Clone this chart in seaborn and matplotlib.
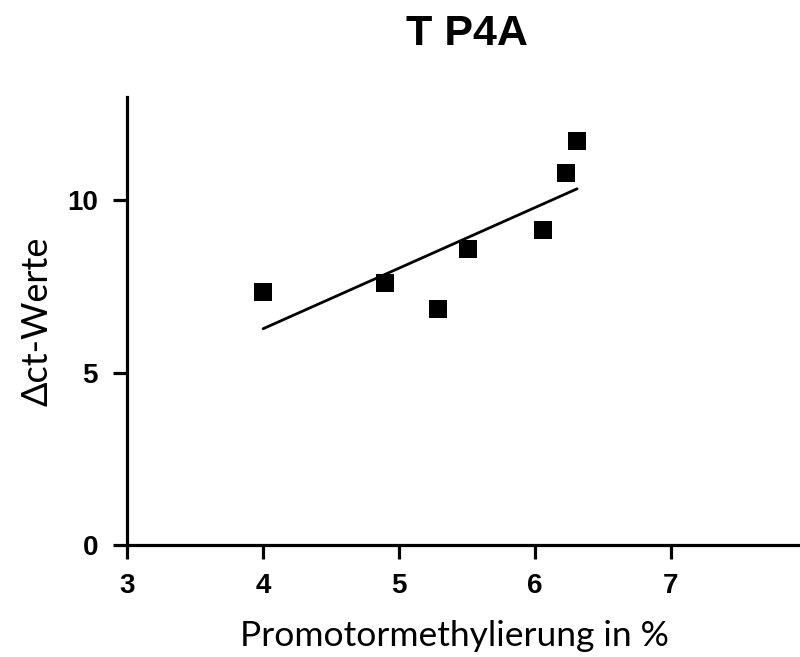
import matplotlib
matplotlib.use("Agg")
import matplotlib.pyplot as plt
import seaborn as sns
import pandas as pd

# Promoter methylation (%) vs. delta-ct values
methylation = [4.00, 4.90, 5.29, 5.51, 6.06, 6.23, 6.31]
delta_ct = [7.35, 7.61, 6.85, 8.60, 9.13, 10.78, 11.71]
x_ticks = [3, 4, 5, 6, 7]
y_ticks = [0, 5, 10]

df = pd.DataFrame({"meth": methylation, "dct": delta_ct})

sns.set_theme(style="ticks")
plt.rcParams["font.family"] = ["Liberation Sans", "DejaVu Sans"]
plt.rcParams["text.color"] = "black"
plt.rcParams["axes.labelcolor"] = "black"

fig = plt.figure(figsize=(8, 6.57), dpi=100)
ax = fig.add_axes([0.159, 0.1705, 0.841, 0.6819])

sns.regplot(data=df, x="meth", y="dct", ax=ax, ci=None, marker="s",
            color="black",
            scatter_kws={"s": 170, "linewidths": 0, "alpha": 1},
            line_kws={"linewidth": 2.0})

ax.set_xlim(3, 7.95)
ax.set_ylim(0, 13.0)
ax.set_xticks(x_ticks)
ax.set_yticks(y_ticks)
ax.set_xticklabels([str(t) for t in x_ticks], fontsize=20, fontweight="bold")
ax.set_yticklabels([str(t) for t in y_ticks], fontsize=20, fontweight="bold")

for side in ("top", "right"):
    ax.spines[side].set_visible(False)
for side in ("left", "bottom"):
    ax.spines[side].set_linewidth(2.3)
    ax.spines[side].set_color("black")
ax.tick_params(axis="x", direction="out", length=10, width=2.3, pad=10,
               colors="black")
ax.tick_params(axis="y", direction="out", length=10, width=2.3, pad=11,
               colors="black")

ax.set_xlabel("Promotormethylierung in %", fontsize=25.5,
              family=["Lato", "DejaVu Sans"], va="baseline")
ax.xaxis.set_label_coords(0.486, -0.225)
ax.set_ylabel("Δct-Werte", fontsize=26, family=["Lato", "DejaVu Sans"])
ax.yaxis.set_label_coords(-0.11, 0.5)

fig.text(0.584, 1 - 45 / 657, "T P4A", ha="center", va="baseline",
         fontsize=31, fontweight="bold", color="black")

fig.savefig("out.png", dpi=100)
